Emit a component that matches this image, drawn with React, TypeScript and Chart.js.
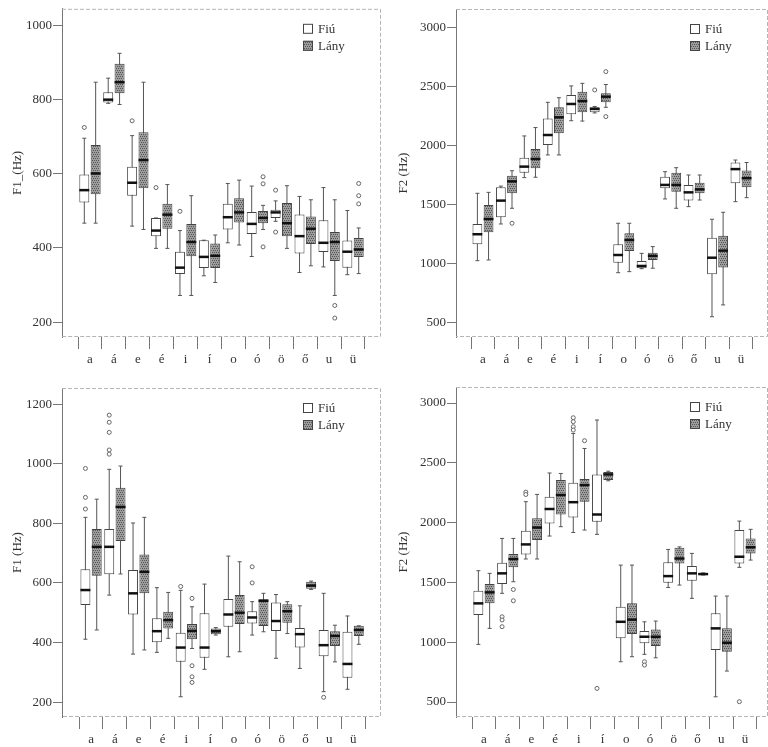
import React, { useEffect, useRef } from "react";
import { Chart, registerables } from "chart.js";

Chart.register(...registerables);

const FONT = "'Liberation Serif', 'DejaVu Serif', serif";

const VOWELS = ["a", "á", "e", "é", "i", "í", "o", "ó", "ö", "ő", "u", "ü"];
const SERIES_NAMES = ["Fiú", "Lány"];

const F1_TICKS_A = [200, 400, 600, 800, 1000];
const F2_TICKS = [500, 1000, 1500, 2000, 2500, 3000];
const F1_TICKS_C = [200, 400, 600, 800, 1000, 1200];

// each entry: [min, q1, median, q3, max]
const A_FIU = [
  [467, 523, 556, 598, 696], [790, 792, 800, 820, 858], [459, 541, 576, 619, 703],
  [399, 432, 447, 481, 481], [272, 330, 347, 390, 447], [325, 346, 376, 421, 421],
  [414, 450, 483, 519, 574], [377, 438, 465, 497, 567], [472, 481, 496, 503, 527],
  [334, 385, 432, 490, 539], [349, 389, 414, 475, 563], [328, 347, 390, 420, 501],
];
const A_LANY = [
  [467, 545, 601, 678, 847], [787, 817, 847, 897, 925], [450, 561, 637, 712, 847],
  [399, 452, 490, 519, 571], [272, 378, 416, 465, 541], [307, 346, 379, 412, 435],
  [408, 469, 496, 534, 583], [450, 467, 481, 500, 515], [399, 432, 467, 521, 568],
  [352, 411, 452, 485, 530], [272, 365, 416, 443, 530], [331, 376, 396, 427, 454],
];
const A_FIU_OUT = [[725], [], [743], [563], [499], [], [], [], [556, 443], [], [], []];
const A_LANY_OUT = [[], [], [], [], [], [], [], [592, 573, 403], [], [], [245, 211], [574, 541, 519]];

const B_FIU = [
  [1028, 1167, 1252, 1339, 1599], [1339, 1396, 1537, 1650, 1660], [1732, 1774, 1825, 1901, 2085],
  [1924, 2009, 2093, 2232, 2370], [2214, 2268, 2356, 2432, 2509], [2280, 2286, 2314, 2328, 2335],
  [926, 1011, 1076, 1167, 1345], [960, 964, 983, 1025, 1090], [1551, 1642, 1670, 1740, 1782],
  [1486, 1537, 1607, 1670, 1754], [553, 913, 1053, 1223, 1379], [1528, 1684, 1804, 1860, 1881],
];
const B_LANY = [
  [1034, 1269, 1381, 1500, 1607], [1472, 1599, 1700, 1748, 1790], [1735, 1811, 1890, 1975, 2156],
  [1924, 2108, 2243, 2328, 2409], [2211, 2286, 2381, 2460, 2531], [2328, 2370, 2418, 2447, 2521],
  [935, 1110, 1203, 1260, 1345], [964, 1034, 1068, 1096, 1147], [1472, 1613, 1670, 1774, 1816],
  [1542, 1599, 1632, 1689, 1754], [653, 969, 1113, 1240, 1438], [1562, 1650, 1727, 1792, 1860],
];
const B_FIU_OUT = [[], [], [], [], [], [2475], [], [], [], [], [], []];
const B_LANY_OUT = [[], [1345], [], [], [], [2630, 2249], [], [], [], [], [], []];

const C_FIU = [
  [411, 526, 576, 646, 820], [559, 629, 721, 781, 981], [361, 494, 565, 643, 801],
  [367, 401, 438, 481, 584], [218, 335, 383, 433, 575], [310, 349, 383, 498, 596],
  [352, 453, 494, 546, 690], [425, 464, 484, 505, 537], [347, 439, 472, 534, 561],
  [313, 383, 428, 449, 523], [235, 354, 391, 442, 565], [243, 282, 328, 436, 489],
];
const C_LANY = [
  [442, 624, 721, 781, 881], [630, 741, 855, 919, 992], [375, 565, 637, 695, 820],
  [414, 447, 475, 503, 568], [380, 411, 439, 462, 520], [425, 428, 438, 447, 450],
  [369, 462, 500, 559, 671], [436, 455, 540, 545, 565], [430, 466, 505, 528, 537],
  [578, 580, 591, 604, 606], [335, 388, 422, 438, 458], [394, 422, 442, 456, 456],
];
const C_FIU_OUT = [[984, 887, 848], [1163, 1139, 1105, 1046, 1032], [], [], [588], [], [], [654, 600], [], [], [216], []];
const C_LANY_OUT = [[], [], [], [], [548, 322, 285, 266], [], [], [], [], [], [], []];

const D_FIU = [
  [982, 1227, 1325, 1431, 1598], [1409, 1487, 1576, 1665, 1868], [1696, 1734, 1818, 1932, 2175],
  [1888, 1993, 2114, 2216, 2415], [1918, 2043, 2171, 2333, 2746], [1902, 2007, 2068, 2403, 2858],
  [837, 1033, 1171, 1297, 1645], [899, 991, 1046, 1094, 1171], [1458, 1497, 1553, 1668, 1776],
  [1367, 1514, 1576, 1637, 1743], [544, 935, 1116, 1242, 1386], [1626, 1659, 1715, 1938, 2013],
];
const D_LANY = [
  [1116, 1325, 1417, 1487, 1576], [1506, 1626, 1696, 1737, 1868], [1696, 1854, 1959, 2036, 2236],
  [1966, 2069, 2231, 2356, 2411], [1938, 2175, 2314, 2365, 2620], [2350, 2356, 2403, 2423, 2430],
  [879, 1069, 1189, 1325, 1645], [870, 968, 1046, 1107, 1177], [1478, 1659, 1700, 1790, 1797],
  [1562, 1565, 1570, 1578, 1580], [759, 921, 996, 1116, 1386], [1687, 1743, 1794, 1868, 1944],
];
const D_FIU_OUT = [[], [1213, 1186, 1130], [2255, 2235], [], [2877, 2844, 2802, 2774], [614], [], [837, 809], [], [], [], [503]];
const D_LANY_OUT = [[], [1441, 1347], [], [], [2685], [], [], [], [], [], [], []];

function makePattern(ctx: CanvasRenderingContext2D) {
  const c = document.createElement("canvas");
  c.width = 4;
  c.height = 4;
  const g = c.getContext("2d")!;
  g.fillStyle = "#9d9d9d";
  g.fillRect(0, 0, 4, 4);
  g.fillStyle = "#555555";
  [[0, 0], [2, 0], [1, 2], [3, 2]].forEach(([x, y]) => g.fillRect(x, y, 1, 1));
  return ctx.createPattern(c, "repeat")!;
}

const boxPlugin = {
  id: "boxExtras",
  beforeDatasetsDraw(chart: any) {
    const { ctx } = chart;
    const ys = chart.scales.y;
    ctx.save();
    chart.data.datasets.forEach((ds: any, di: number) => {
      const meta = chart.getDatasetMeta(di);
      meta.data.forEach((el: any, i: number) => {
        const s = ds.stats[i];
        const x = el.x;
        ctx.strokeStyle = "#555";
        ctx.lineWidth = 1;
        ctx.beginPath();
        ctx.moveTo(x, ys.getPixelForValue(s[0]));
        ctx.lineTo(x, ys.getPixelForValue(s[4]));
        ctx.moveTo(x - 2, ys.getPixelForValue(s[0]));
        ctx.lineTo(x + 2, ys.getPixelForValue(s[0]));
        ctx.moveTo(x - 2, ys.getPixelForValue(s[4]));
        ctx.lineTo(x + 2, ys.getPixelForValue(s[4]));
        ctx.stroke();
        (ds.outliers[i] || []).forEach((v: number) => {
          ctx.beginPath();
          ctx.arc(x, ys.getPixelForValue(v), 2, 0, Math.PI * 2);
          ctx.fillStyle = "#fff";
          ctx.fill();
          ctx.strokeStyle = "#666";
          ctx.stroke();
        });
      });
    });
    ctx.restore();
  },
  afterDatasetsDraw(chart: any) {
    const { ctx } = chart;
    const ys = chart.scales.y;
    ctx.save();
    chart.data.datasets.forEach((ds: any, di: number) => {
      const meta = chart.getDatasetMeta(di);
      meta.data.forEach((el: any, i: number) => {
        const s = ds.stats[i];
        const y = ys.getPixelForValue(s[2]);
        ctx.strokeStyle = "#111";
        ctx.lineWidth = 2.5;
        ctx.beginPath();
        ctx.moveTo(el.x - el.width / 2, y);
        ctx.lineTo(el.x + el.width / 2, y);
        ctx.stroke();
      });
    });
    ctx.restore();
  },
  afterDraw(chart: any) {
    const { ctx, chartArea: ca } = chart;
    ctx.save();
    ctx.strokeStyle = "#b5b5b5";
    ctx.lineWidth = 1;
    ctx.setLineDash([4, 2]);
    ctx.beginPath();
    ctx.moveTo(ca.left, ca.top + 0.5);
    ctx.lineTo(ca.right - 0.5, ca.top + 0.5);
    ctx.lineTo(ca.right - 0.5, ca.bottom - 0.5);
    ctx.lineTo(ca.left, ca.bottom - 0.5);
    ctx.stroke();
    ctx.setLineDash([]);
    const lx = ca.right - 78;
    chart.data.datasets.forEach((ds: any, di: number) => {
      const ly = ca.top + 20 + di * 17;
      ctx.fillStyle = ds.backgroundColor;
      ctx.fillRect(lx, ly - 5, 10, 10);
      ctx.strokeStyle = "#444";
      ctx.lineWidth = 1;
      ctx.strokeRect(lx + 0.5, ly - 4.5, 9, 9);
      ctx.fillStyle = "#333";
      ctx.font = `13px ${FONT}`;
      ctx.textBaseline = "middle";
      ctx.textAlign = "left";
      ctx.fillText(ds.label, lx + 15, ly + 1);
    });
    ctx.restore();
  },
};

type PanelProps = {
  left: number;
  top: number;
  width: number;
  height: number;
  title: string;
  fiu: number[][];
  lany: number[][];
  fiuOut: number[][];
  lanyOut: number[][];
  yMin: number;
  yMax: number;
  yTicks: number[];
  xMin: number;
  xMax: number;
  yWidth: number;
  xHeight: number;
  padTop: number;
  padRight: number;
  titlePad: number;
};

function BoxPanel(p: PanelProps) {
  const ref = useRef<HTMLCanvasElement>(null);
  useEffect(() => {
    const ctx = ref.current!.getContext("2d")!;
    const pattern = makePattern(ctx);
    const tickFont = { family: FONT, size: 13 };
    const chart = new Chart(ctx, {
      type: "bar",
      data: {
        datasets: [
          {
            label: SERIES_NAMES[0],
            data: p.fiu.map((s, i) => ({ x: i, y: [s[1], s[3]] })) as any,
            backgroundColor: "#ffffff",
            borderColor: "#444",
            borderWidth: 1,
            borderSkipped: false,
            stats: p.fiu,
            outliers: p.fiuOut,
          } as any,
          {
            label: SERIES_NAMES[1],
            data: p.lany.map((s, i) => ({ x: i, y: [s[1], s[3]] })) as any,
            backgroundColor: pattern,
            borderColor: "#444",
            borderWidth: 1,
            borderSkipped: false,
            stats: p.lany,
            outliers: p.lanyOut,
          } as any,
        ],
      },
      options: {
        animation: false,
        responsive: false,
        categoryPercentage: 0.95,
        barPercentage: 0.88,
        layout: { padding: { top: p.padTop, right: p.padRight, left: 0, bottom: 0 } },
        plugins: { legend: { display: false }, tooltip: { enabled: false } },
        scales: {
          x: {
            type: "linear",
            min: p.xMin,
            max: p.xMax,
            offset: false,
            afterBuildTicks: (s: any) => {
              s.ticks = VOWELS.map((_, i) => ({ value: i }));
            },
            afterFit: (s: any) => {
              s.height = p.xHeight;
            },
            ticks: {
              autoSkip: false,
              maxRotation: 0,
              font: tickFont,
              color: "#333",
              padding: 3,
              callback: (v: any) => VOWELS[Math.round(Number(v))] ?? "",
            },
            grid: { drawOnChartArea: false, drawTicks: true, tickLength: 12, tickColor: "#777", tickWidth: 1 },
            border: { display: false },
          },
          y: {
            type: "linear",
            min: p.yMin,
            max: p.yMax,
            afterBuildTicks: (s: any) => {
              s.ticks = p.yTicks.map((v) => ({ value: v }));
            },
            afterFit: (s: any) => {
              s.width = p.yWidth;
            },
            ticks: { font: tickFont, color: "#333", padding: 1, callback: (v: any) => String(v) },
            grid: { drawOnChartArea: false, drawTicks: true, tickLength: 9, tickColor: "#777", tickWidth: 1 },
            border: { display: true, color: "#777", width: 1 },
            title: {
              display: true,
              text: p.title,
              font: { family: FONT, size: 13 },
              color: "#333",
              padding: { top: p.titlePad, bottom: 0 },
            },
          },
        },
      } as any,
      plugins: [boxPlugin],
    });
    return () => chart.destroy();
  }, []);
  return (
    <canvas
      ref={ref}
      width={p.width}
      height={p.height}
      style={{ position: "absolute", left: p.left, top: p.top, width: p.width, height: p.height }}
    />
  );
}

export default function App() {
  return (
    <div style={{ position: "absolute", left: 0, top: 0, width: 768, height: 747, background: "#fff", overflow: "hidden" }}>
      <BoxPanel
        left={0} top={0} width={384} height={372}
        title="F1_(Hz)"
        fiu={A_FIU} lany={A_LANY} fiuOut={A_FIU_OUT} lanyOut={A_LANY_OUT}
        yMin={160} yMax={1045} yTicks={F1_TICKS_A}
        xMin={-1.17} xMax={12.17}
        yWidth={62} xHeight={35} padTop={6} padRight={3} titlePad={10}
      />
      <BoxPanel
        left={384} top={0} width={384} height={372}
        title="F2 (Hz)"
        fiu={B_FIU} lany={B_LANY} fiuOut={B_FIU_OUT} lanyOut={B_LANY_OUT}
        yMin={381} yMax={3161} yTicks={F2_TICKS}
        xMin={-1.15} xMax={12.15}
        yWidth={72} xHeight={35} padTop={9} padRight={0} titlePad={12}
      />
      <BoxPanel
        left={0} top={372} width={384} height={375}
        title="F1 (Hz)"
        fiu={C_FIU} lany={C_LANY} fiuOut={C_FIU_OUT} lanyOut={C_LANY_OUT}
        yMin={150} yMax={1254} yTicks={F1_TICKS_C}
        xMin={-1.22} xMax={12.17}
        yWidth={62} xHeight={30} padTop={16} padRight={3} titlePad={10}
      />
      <BoxPanel
        left={384} top={372} width={384} height={375}
        title="F2 (Hz)"
        fiu={D_FIU} lany={D_LANY} fiuOut={D_FIU_OUT} lanyOut={D_LANY_OUT}
        yMin={375} yMax={3134} yTicks={F2_TICKS}
        xMin={-1.18} xMax={11.97}
        yWidth={72} xHeight={30} padTop={15} padRight={0} titlePad={12}
      />
    </div>
  );
}
